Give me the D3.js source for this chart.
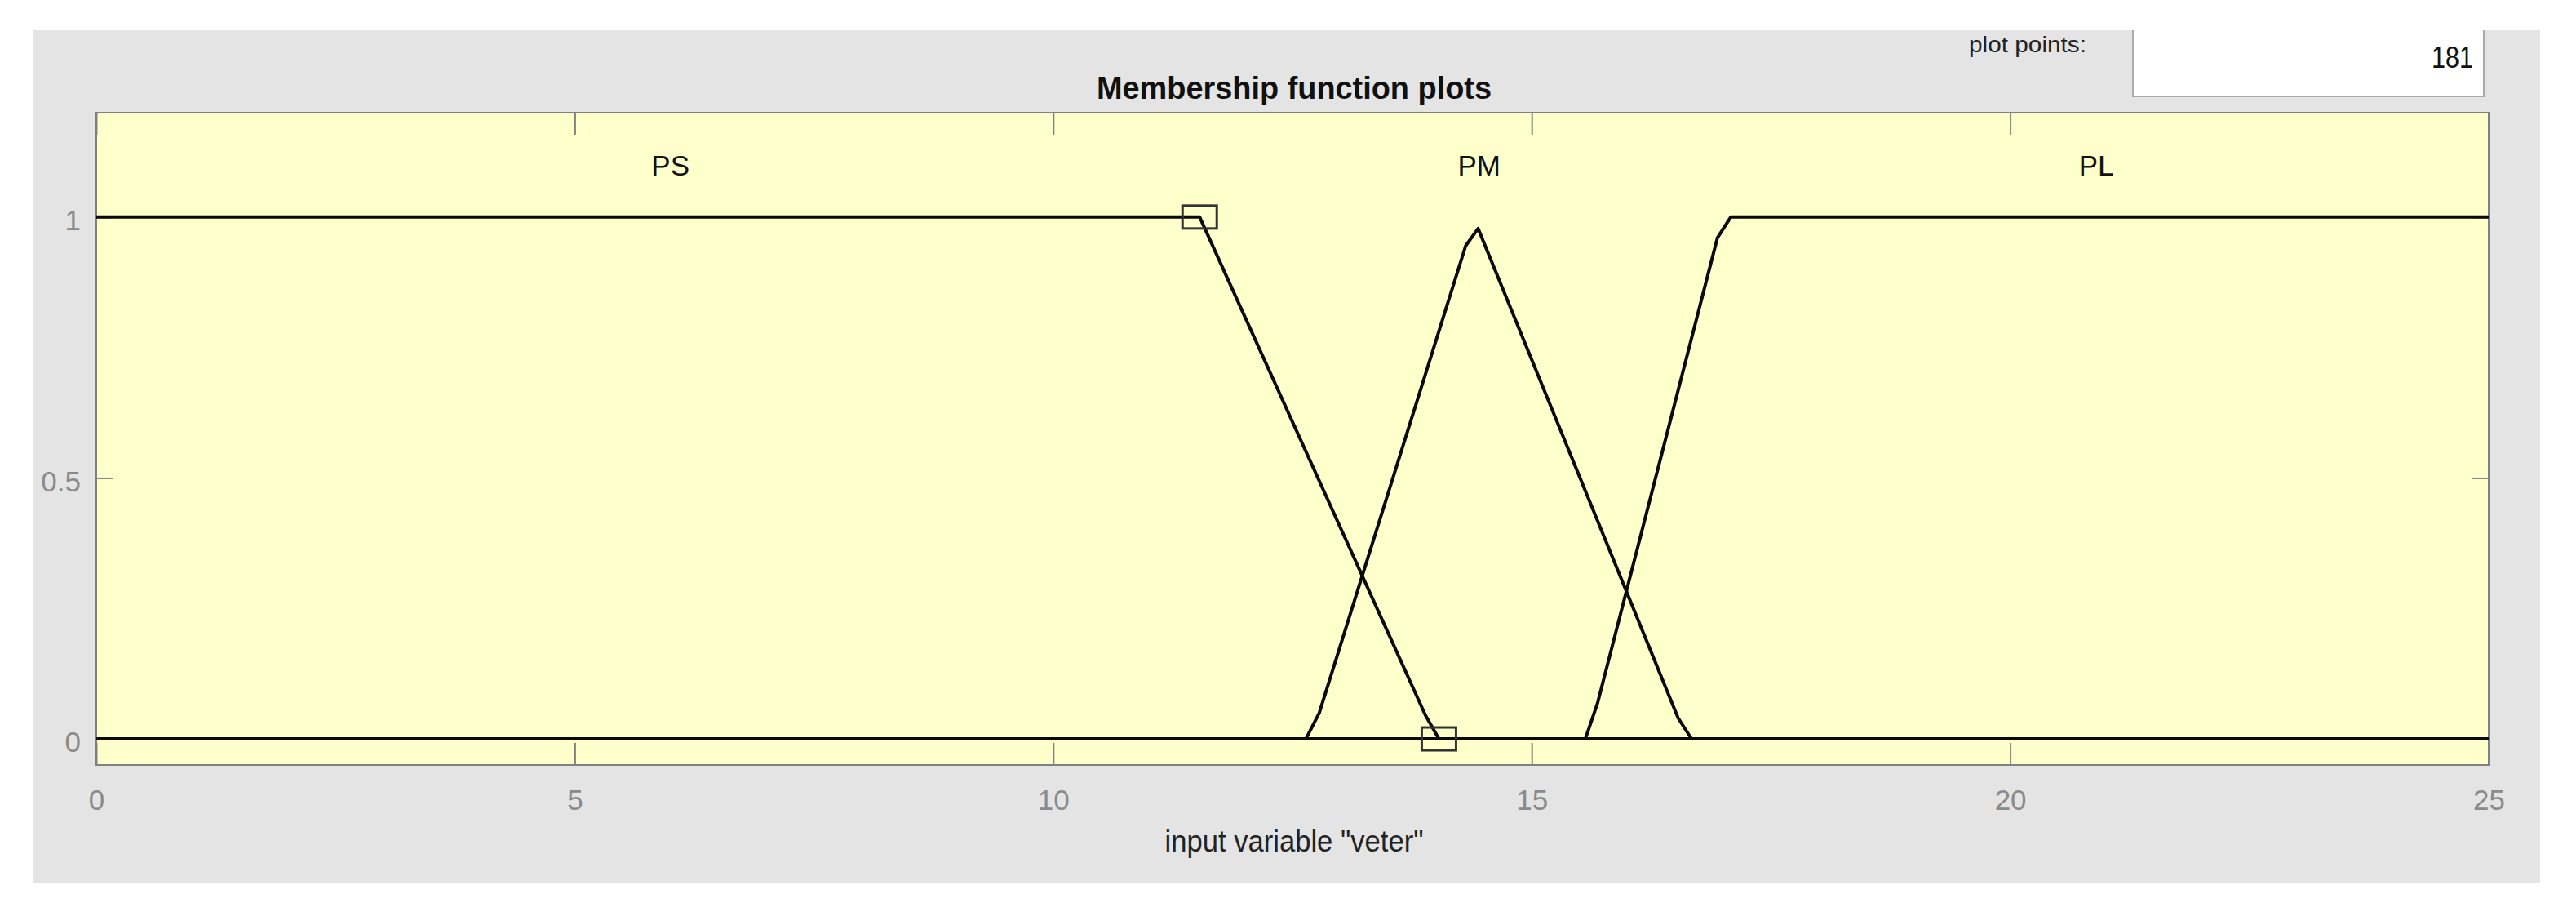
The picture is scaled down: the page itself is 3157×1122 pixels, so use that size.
<!DOCTYPE html>
<html>
<head>
<meta charset="utf-8">
<script src="https://cdn.jsdelivr.net/npm/d3@7"></script>
<style>
  html, body { margin: 0; padding: 0; background: #ffffff; }
  svg { display: block; }
  text { font-family: "Liberation Sans", Arial, sans-serif; }
</style>
</head>
<body>
<svg id="chart" width="3157" height="1122"></svg>
<script>
// ---- data ----
const xTicks = [0, 5, 10, 15, 20, 25];
const yTicks = [0, 0.5, 1];
const mfNames = ["PS", "PM", "PL"];
const psPoints = [[0, 1], [11.53, 1], [13.89, 0.045], [14.03, 0], [25, 0]];
const pmPoints = [[0, 0], [12.64, 0], [12.78, 0.05], [14.31, 0.945], [14.44, 0.978], [16.53, 0.04], [16.67, 0], [25, 0]];
const plPoints = [[0, 0], [15.56, 0], [15.69, 0.07], [16.94, 0.96], [17.08, 1], [25, 1]];
const labelX = [6.0, 14.45, 20.9];
const labelY = [1.1, 1.1, 1.1];
const markerPoints = [[11.53, 1], [14.03, 0]];
const titleText = "Membership function plots";
const xLabelText = "input variable \"veter\"";
const plotPointsLabel = "plot points:";
const plotPointsValue = "181";

// ---- layout ----
const svg = d3.select("#chart");
const P = { left: 118, right: 3050, top: 138, bottom: 937 };
const x = d3.scaleLinear().domain([0, 25]).range([P.left, P.right]);
const y = d3.scaleLinear().domain([-0.05, 1.2]).range([P.bottom, P.top]);

// gray panel
svg.append("rect").attr("x", 40).attr("y", 37).attr("width", 3073).attr("height", 1045).attr("fill", "#e4e4e4");

// plot points box
svg.append("rect").attr("x", 2614).attr("y", 37).attr("width", 430).attr("height", 81).attr("fill", "#ffffff");
svg.append("path").attr("d", "M2614,37V118H3044V37").attr("fill", "none").attr("stroke", "#a9a9b1").attr("stroke-width", 2);
svg.append("text").attr("x", 2557).attr("y", 64).attr("text-anchor", "end")
  .attr("font-size", 27).attr("fill", "#222").attr("textLength", 144).attr("lengthAdjust", "spacingAndGlyphs")
  .text(plotPointsLabel);
svg.append("text").attr("x", 3031).attr("y", 83).attr("text-anchor", "end")
  .attr("font-size", 36).attr("fill", "#111").attr("textLength", 51).attr("lengthAdjust", "spacingAndGlyphs")
  .text(plotPointsValue);

// title
svg.append("text").attr("x", 1586).attr("y", 121).attr("text-anchor", "middle")
  .attr("font-size", 39).attr("font-weight", "bold").attr("fill", "#111")
  .attr("textLength", 484).attr("lengthAdjust", "spacingAndGlyphs").text(titleText);

// plot background
svg.append("rect").attr("x", P.left).attr("y", P.top).attr("width", P.right - P.left).attr("height", P.bottom - P.top)
  .attr("fill", "#ffffcc");

// axes
function styleAxis(g) {
  g.select(".domain").remove();
  g.selectAll(".tick line").attr("stroke", "#808080").attr("stroke-width", 2);
  g.selectAll(".tick text").attr("fill", "#8a8a8a").attr("font-size", 35)
    .attr("font-family", "Liberation Sans, Arial, sans-serif");
}
svg.append("g").attr("transform", `translate(0,${P.bottom})`)
  .call(d3.axisBottom(x).tickValues(xTicks).tickSize(-27).tickPadding(30).tickFormat(d3.format("d")))
  .call(styleAxis);
svg.append("g").attr("transform", `translate(0,${P.top})`)
  .call(d3.axisTop(x).tickValues(xTicks).tickSize(-27).tickFormat(""))
  .call(styleAxis);
svg.append("g").attr("transform", `translate(${P.left},0)`)
  .call(d3.axisLeft(y).tickValues(yTicks).tickSize(-20).tickPadding(19).tickFormat(d => d === 0.5 ? "0.5" : d3.format("d")(d)))
  .call(styleAxis)
  .call(g => g.selectAll(".tick text").attr("dy", "0.45em"));
svg.append("g").attr("transform", `translate(${P.right},0)`)
  .call(d3.axisRight(y).tickValues(yTicks).tickSize(-20).tickFormat(""))
  .call(styleAxis);

// plot border
svg.append("rect").attr("x", P.left).attr("y", P.top).attr("width", P.right - P.left).attr("height", P.bottom - P.top)
  .attr("fill", "none").attr("stroke", "#808080").attr("stroke-width", 2);

// membership function lines
const line = d3.line().x(d => x(d[0])).y(d => y(d[1]));
[psPoints, pmPoints, plPoints].forEach(pts => {
  svg.append("path").datum(pts).attr("d", line).attr("fill", "none")
    .attr("stroke", "#0a0a0a").attr("stroke-width", 4).attr("stroke-linejoin", "round");
});

// selected-MF markers
svg.selectAll(".marker").data(markerPoints).enter().append("rect").attr("class", "marker")
  .attr("x", d => x(d[0]) - 21).attr("y", d => y(d[1]) - 14).attr("width", 42).attr("height", 28)
  .attr("fill", "none").attr("stroke", "#333").attr("stroke-width", 3);

// MF labels
svg.selectAll(".mflabel").data(mfNames).enter().append("text").attr("class", "mflabel")
  .attr("x", (d, i) => x(labelX[i])).attr("y", (d, i) => y(labelY[i]))
  .attr("dy", "0.36em").attr("text-anchor", "middle").attr("font-size", 35).attr("fill", "#111")
  .text(d => d);

// x label
svg.append("text").attr("x", 1586).attr("y", 1043).attr("text-anchor", "middle")
  .attr("font-size", 36).attr("fill", "#222").attr("textLength", 317).attr("lengthAdjust", "spacingAndGlyphs")
  .text(xLabelText);
</script>
</body>
</html>
